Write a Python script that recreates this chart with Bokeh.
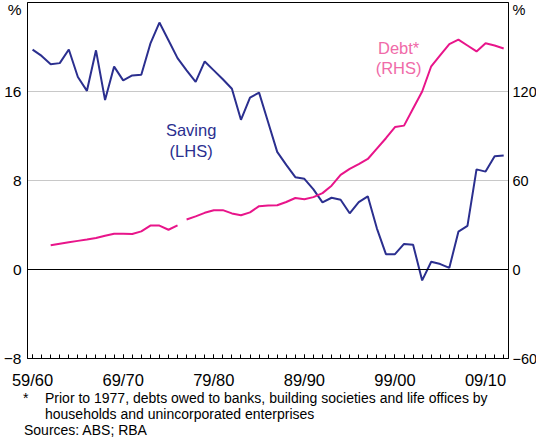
from bokeh.plotting import figure
from bokeh.models import Range1d, LinearAxis, FixedTicker, Label, Span, Div
from bokeh.layouts import column
from bokeh.embed import file_html
from bokeh.resources import INLINE

# ---- data ----
saving_years = list(range(1960, 2013))
saving = [19.77, 19.2, 18.45, 18.55, 19.77, 17.3, 16.06, 19.7, 15.24, 18.24,
          17.0, 17.44, 17.5, 20.3, 22.2, 20.6, 19.0, 17.9, 16.86, 18.7,
          17.9, 17.1, 16.25, 13.46, 15.45, 15.9, 13.24, 10.57, 9.41, 8.3,
          8.15, 7.2, 6.03, 6.45, 6.27, 5.05, 6.05, 6.58, 3.7, 1.38,
          1.38, 2.3, 2.23, -0.98, 0.7, 0.49, 0.15, 3.4, 3.92, 9.0,
          8.8, 10.18, 10.25]

debt_years = list(range(1962, 2013))
debt = [16.3, 17.4, 18.4, 19.3, 20.2, 21.3, 22.7, 24.1, 24.1, 23.9,
        25.7, 29.6, 29.6, 26.8, 29.8,
        33.7, 35.8, 38.2, 39.9, 40.0, 37.8, 36.6, 38.5, 42.7, 43.1,
        43.3, 45.5, 48.2, 47.4, 48.8, 51.5, 56.5, 63.8, 67.8, 71.0,
        74.5, 81.5, 88.5, 96.0, 97.0, 108.5, 120.0, 137.0, 144.5, 152.0,
        155.0, 151.0, 147.0, 152.5, 151.0, 149.0]
debt_break_year = 1977  # series break: definition changes from 1977

x_tick_years = [1960, 1970, 1980, 1990, 2000, 2010]
x_tick_labels = ["59/60", "69/70", "79/80", "89/90", "99/00", "09/10"]
left_ticks = [-8, 0, 8, 16]
right_ticks = [-60, 0, 60, 120]
unit_label = "%"

footnote1 = "Prior to 1977, debts owed to banks, building societies and life offices by"
footnote2 = "households and unincorporated enterprises"
sources = "Sources: ABS; RBA"

# ---- styles ----
NAVY = "#2b2f8f"
PINK_LINE = "#e8158a"
PINK_TEXT = "#f06aa8"
FONT = "Liberation Sans"
UNIT_POS_LEFT = 23.36           # where the "%" sits on the left scale
UNIT_POS_RIGHT = UNIT_POS_LEFT * 7.5

p = figure(width=540, height=391,
           x_range=Range1d(1959.44, 2012.53), y_range=Range1d(-8, 24),
           output_backend="svg", toolbar_location=None,
           min_border_left=23, min_border_right=31,
           min_border_top=2, min_border_bottom=32)
p.extra_y_ranges = {"debt": Range1d(-60, 180)}

p.outline_line_color = "black"
p.outline_line_width = 1
p.background_fill_color = "white"
p.border_fill_color = "white"

# grid
p.xgrid.visible = False
p.ygrid.ticker = FixedTicker(ticks=[8, 16])
p.ygrid.grid_line_color = "#c8c8c8"
p.ygrid.grid_line_width = 1
p.add_layout(Span(location=0, dimension="width", line_color="black", line_width=1))

# x axis
xa = p.xaxis[0]
xa.ticker = FixedTicker(ticks=x_tick_years, minor_ticks=saving_years)
xa.major_label_overrides = {y: l for y, l in zip(x_tick_years, x_tick_labels)}
xa.major_tick_in = 4
xa.major_tick_out = 0
xa.minor_tick_in = 4
xa.minor_tick_out = 0
xa.major_tick_line_color = "black"
xa.minor_tick_line_color = "black"
xa.axis_line_color = "black"
xa.major_label_standoff = 12
xa.major_label_text_font = FONT
xa.major_label_text_font_size = "16.5px"
xa.major_label_text_color = "black"

# left axis
ya = p.yaxis[0]
ya.ticker = FixedTicker(ticks=left_ticks + [UNIT_POS_LEFT])
ya.major_label_overrides = {UNIT_POS_LEFT: unit_label}
ya.major_tick_in = 0
ya.major_tick_out = 0
ya.minor_tick_line_color = None
ya.axis_line_color = "black"
ya.major_label_standoff = 6
ya.major_label_text_font = FONT
ya.major_label_text_font_size = "15.5px"
ya.major_label_text_color = "black"

# right axis
ra = LinearAxis(y_range_name="debt",
                ticker=FixedTicker(ticks=right_ticks + [UNIT_POS_RIGHT]))
ra.major_label_overrides = {UNIT_POS_RIGHT: unit_label}
ra.major_tick_in = 0
ra.major_tick_out = 0
ra.minor_tick_line_color = None
ra.axis_line_color = "black"
ra.major_label_standoff = 4
ra.major_label_text_font = FONT
ra.major_label_text_font_size = "14.5px"
ra.major_label_text_color = "black"
p.add_layout(ra, "right")

# series
p.line(saving_years, saving, line_color=NAVY, line_width=2)
pre_x = [y for y in debt_years if y < debt_break_year]
pre_y = [v for y, v in zip(debt_years, debt) if y < debt_break_year]
post_x = [y for y in debt_years if y >= debt_break_year]
post_y = [v for y, v in zip(debt_years, debt) if y >= debt_break_year]
p.line(pre_x, pre_y, line_color=PINK_LINE, line_width=2, y_range_name="debt")
p.line(post_x, post_y, line_color=PINK_LINE, line_width=2, y_range_name="debt")

def lab(x, y, text, color):
    p.add_layout(Label(x=x, y=y, text=text, text_color=color, text_font=FONT,
                       text_font_size="16.5px", text_align="center",
                       text_baseline="middle"))

lab(1977.5, 12.5, "Saving", NAVY)
lab(1977.5, 10.65, "(LHS)", NAVY)
lab(2000.4, 19.95, "Debt*", PINK_TEXT)
lab(2000.4, 18.1, "(RHS)", PINK_TEXT)

notes_html = (
    '<div style="position:relative;width:540px;height:43px;'
    "font-family:'Liberation Sans',Arial,sans-serif;font-size:14px;"
    'line-height:16.4px;color:#000;">'
    '<span style="position:absolute;left:23px;top:-1px;">*</span>'
    f'<span style="position:absolute;left:45px;top:-1px;white-space:nowrap;">{footnote1}</span>'
    f'<span style="position:absolute;left:45px;top:15.4px;white-space:nowrap;">{footnote2}</span>'
    f'<span style="position:absolute;left:24px;top:31.4px;white-space:nowrap;">{sources}</span>'
    '</div>'
)
notes = Div(text=notes_html, width=540, height=43, margin=(0, 0, 0, 0))

layout = column(p, notes, spacing=0)

open("out.html", "w").write(file_html(layout, INLINE))
